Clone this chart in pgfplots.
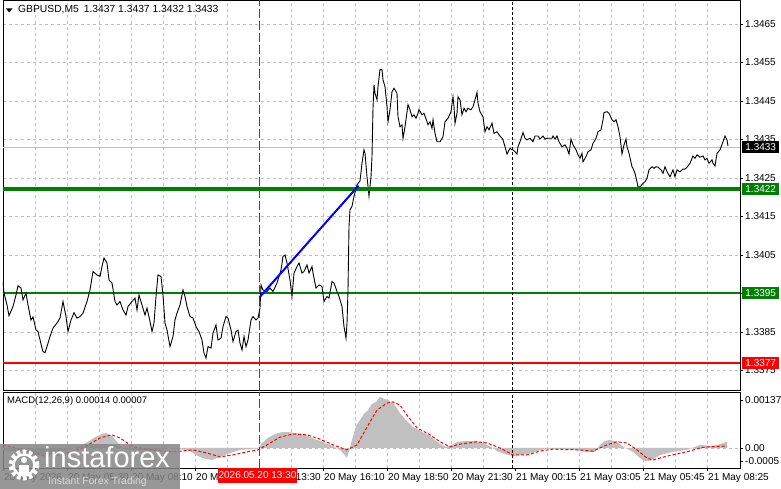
\documentclass[border=0pt]{standalone}
\usepackage{pgfplots}
\pgfplotsset{compat=1.18}
\usepackage{fontspec}
\setmainfont{Liberation Sans}
\definecolor{mtgreen}{RGB}{0,128,0}
\definecolor{mtred}{RGB}{255,0,0}
\definecolor{mtgrid}{RGB}{192,192,192}
\definecolor{mtsilver}{RGB}{192,192,192}
\newcommand{\tf}{\fontsize{10}{12}\selectfont}
\begin{document}
\begin{tikzpicture}[x=1pt,y=1pt]
\useasboundingbox (0,0) rectangle (781,489);
% ---------------- main price panel ----------------
\begin{axis}[
  at={(3pt,99pt)}, anchor=south west, scale only axis,
  width=737pt, height=390pt,
  xmin=3, xmax=740, ymin=1.336992, ymax=1.347122,
  axis line style={black, line width=0.8pt},
  clip=true,
  xtick={35.5,67.5,99.5,131.5,163.5,195.5,227.5,291.5,323.5,355.5,387.5,419.5,451.5,483.5,547.5,579.5,611.5,643.5,675.5,707.5},
  xticklabels={},
  x tick style={draw=none},
  ytick={1.3375,1.3385,1.3395,1.3405,1.3415,1.3425,1.3435,1.3445,1.3455,1.3465},
  yticklabels={1.3375,1.3385,1.3395,1.3405,1.3415,1.3425,1.3435,1.3445,1.3455,1.3465},
  ytick pos=right, tick align=outside, major tick length=3pt,
  y tick style={black, line width=0.8pt},
  yticklabel style={font=\tf, anchor=west, inner sep=0pt, xshift=2pt},
  scaled y ticks=false,
  xmajorgrids, ymajorgrids,
  grid style={mtgrid, line width=0.8pt, dash pattern=on 3pt off 3pt},
]
% horizontal level lines
\addplot[mtgrid, line width=1pt] coordinates {(3,1.3433) (740,1.3433)};
\addplot[mtred, line width=2pt] coordinates {(3,1.3377) (740,1.3377)};
\addplot[mtgreen, line width=2pt] coordinates {(3,1.3395) (740,1.3395)};
% vertical markers
\addplot[mtred, line width=1.2pt, dash pattern=on 9pt off 3pt] coordinates {(259.5,1.336992) (259.5,1.347122)};
\addplot[black, line width=1pt, dash pattern=on 3pt off 2pt] coordinates {(512,1.336992) (512,1.347122)};
% price line
\addplot[black, line width=0.9pt] table {
x y
3 1.33981
4 1.33951
7 1.33920
9 1.33892
13 1.33916
16 1.33946
18 1.33970
21 1.33964
23 1.33933
26 1.33951
28 1.33920
31 1.33881
33 1.33889
36 1.33855
38 1.33851
42 1.33808
43 1.33799
45 1.33796
47 1.33812
50 1.33838
53 1.33860
57 1.33873
60 1.33886
63 1.33929
66 1.33890
68 1.33851
71 1.33881
74 1.33900
77 1.33886
80 1.33890
83 1.33899
87 1.33929
90 1.33959
93 1.34007
97 1.33998
100 1.33994
102 1.34020
104 1.34042
107 1.34029
109 1.33985
112 1.33977
115 1.33929
117 1.33920
120 1.33929
123 1.33907
126 1.33894
128 1.33916
132 1.33929
135 1.33938
137 1.33907
139 1.33946
142 1.33920
145 1.33894
147 1.33912
150 1.33877
152 1.33851
154 1.33873
156 1.33942
158 1.33998
161 1.33994
163 1.33946
165 1.33873
167 1.33855
170 1.33812
173 1.33838
175 1.33881
177 1.33899
180 1.33920
183 1.33959
185 1.33942
187 1.33916
190 1.33890
193 1.33886
196 1.33864
199 1.33851
202 1.33829
204 1.33795
206 1.33782
208 1.33812
211 1.33808
213 1.33847
216 1.33868
218 1.33829
221 1.33834
223 1.33864
226 1.33890
228 1.33886
231 1.33855
233 1.33825
236 1.33851
238 1.33855
240 1.33821
242 1.33803
244 1.33838
246 1.33812
248 1.33829
251 1.33881
253 1.33890
256 1.33881
258 1.33886
260 1.33912
261 1.33972
263 1.33959
267 1.33955
270 1.33964
273 1.33955
277 1.33977
281 1.34011
283 1.34046
285 1.34050
287 1.34029
290 1.33985
292 1.33942
294 1.34003
297 1.34020
299 1.34029
302 1.34003
304 1.34007
307 1.34024
309 1.34003
312 1.34020
313 1.34003
316 1.33964
319 1.33972
322 1.33968
324 1.33929
327 1.33942
329 1.33938
332 1.33981
334 1.33977
337 1.33955
339 1.33942
342 1.33916
344 1.33864
346 1.33834
347 1.33873
348 1.33959
349 1.34124
350 1.34167
352 1.34176
354 1.34202
357 1.34232
360 1.34242
362 1.34288
364 1.34323
365 1.34314
367 1.34253
369 1.34203
371 1.34253
372 1.34305
373 1.34432
374 1.34492
375 1.34470
377 1.34453
378 1.34487
380 1.34532
382 1.34531
383 1.34505
385 1.34487
387 1.34435
388 1.34396
390 1.34427
392 1.34474
394 1.34483
397 1.34470
398 1.34409
400 1.34383
402 1.34388
403 1.34353
405 1.34383
408 1.34440
410 1.34427
412 1.34409
414 1.34414
416 1.34405
418 1.34418
419 1.34428
422 1.34414
424 1.34418
427 1.34396
428 1.34388
430 1.34396
432 1.34379
433 1.34401
435 1.34366
437 1.34344
440 1.34344
443 1.34357
445 1.34396
448 1.34405
451 1.34422
453 1.34461
454 1.34435
455 1.34392
457 1.34418
458 1.34461
460 1.34453
462 1.34414
464 1.34431
466 1.34422
468 1.34431
471 1.34427
473 1.34435
475 1.34453
477 1.34472
478 1.34444
480 1.34422
483 1.34409
485 1.34370
487 1.34383
489 1.34375
492 1.34392
494 1.34366
497 1.34370
499 1.34362
502 1.34353
503 1.34349
505 1.34331
507 1.34312
510 1.34327
512 1.34323
513 1.34323
515 1.34318
517 1.34312
518 1.34331
520 1.34344
523 1.34368
525 1.34353
527 1.34349
530 1.34353
533 1.34344
535 1.34359
538 1.34359
540 1.34351
543 1.34359
545 1.34351
548 1.34353
552 1.34353
553 1.34359
555 1.34351
557 1.34359
559 1.34344
562 1.34331
565 1.34336
567 1.34327
569 1.34312
571 1.34351
573 1.34336
576 1.34323
578 1.34310
580 1.34301
582 1.34314
583 1.34292
586 1.34305
588 1.34318
591 1.34323
593 1.34340
596 1.34353
598 1.34370
601 1.34375
603 1.34401
604 1.34420
607 1.34422
609 1.34418
612 1.34401
614 1.34396
616 1.34401
618 1.34383
620 1.34357
622 1.34312
624 1.34336
626 1.34351
627 1.34331
629 1.34314
632 1.34279
633 1.34275
635 1.34262
637 1.34240
638 1.34226
640 1.34227
643 1.34236
645 1.34240
647 1.34249
649 1.34271
652 1.34279
654 1.34275
656 1.34279
658 1.34278
661 1.34271
663 1.34262
665 1.34279
667 1.34266
670 1.34253
673 1.34271
675 1.34253
677 1.34271
680 1.34266
683 1.34273
685 1.34273
687 1.34278
690 1.34288
693 1.34307
695 1.34301
697 1.34310
700 1.34304
703 1.34307
705 1.34297
707 1.34301
709 1.34288
712 1.34297
713 1.34288
715 1.34281
717 1.34314
720 1.34323
723 1.34344
725 1.34359
727 1.34349
728 1.34333
};
% thick support line
\addplot[mtgreen, line width=4pt] coordinates {(3,1.3422) (740,1.3422)};
% blue trend segment
\addplot[blue, line width=2pt] coordinates {(259.5,1.33940) (358.5,1.34230)};
\coordinate (b1433) at (axis cs:740,1.3433);
\coordinate (b1422) at (axis cs:740,1.3422);
\coordinate (b1395) at (axis cs:740,1.3395);
\coordinate (b1377) at (axis cs:740,1.3377);
\end{axis}
% price boxes on the right scale
\tikzset{pbox/.style={anchor=west, inner sep=0pt, minimum width=37pt, minimum height=12pt, xshift=2pt, text=white, font=\tf}}
\node[pbox, fill=black] at (b1433) {1.3433};
\node[pbox, fill=mtgreen] at (b1422) {1.3422};
\node[pbox, fill=mtgreen] at (b1395) {1.3395};
\node[pbox, fill=mtred] at (b1377) {1.3377};
% title
\fill (6,480.5) -- (12.5,480.5) -- (9.25,476.5) -- cycle;
\node[anchor=west, inner sep=0pt, font=\fontsize{10.3}{12}\selectfont] at (18,479) {GBPUSD,M5\hspace{5pt}1.3437 1.3437 1.3432 1.3433};
% ---------------- MACD panel ----------------
\begin{axis}[
  at={(3pt,21pt)}, anchor=south west, scale only axis,
  width=737pt, height=76pt,
  xmin=3, xmax=740, ymin=-0.000517, ymax=0.001447,
  axis line style={black, line width=0.8pt},
  xtick={3.5,67.5,131.5,195.5,259.5,323.5,387.5,451.5,515.5,579.5,643.5,707.5},
  xticklabels={20 May 2026,20 May 05:30,20 May 08:10,20 May 10:50,20 May 13:30,20 May 16:10,20 May 18:50,20 May 21:30,21 May 00:15,21 May 03:05,21 May 05:45,21 May 08:25},
  minor xtick={35.5,67.5,99.5,131.5,163.5,195.5,227.5,291.5,323.5,355.5,387.5,419.5,451.5,483.5,547.5,579.5,611.5,643.5,675.5,707.5},
  xminorgrids,
  minor grid style={mtgrid, line width=0.8pt, dash pattern=on 3pt off 3pt},
  minor tick length=0pt,
  xtick pos=bottom, ytick pos=right, tick align=outside, major tick length=3pt,
  tick style={black, line width=0.8pt},
  ytick={-0.000336,0,0.00124},
  yticklabels={-0.0005,0.00,0.00137},
  scaled y ticks=false,
  yticklabel style={font=\tf, anchor=west, inner sep=0pt, xshift=2pt},
  xticklabel style={font=\tf, anchor=north west, inner sep=0pt, xshift=0.5pt, yshift=-2pt},
]
\addplot[mtgrid, line width=0.8pt, dash pattern=on 3pt off 3pt] coordinates {(3,0) (740,0)};
% MACD histogram
\addplot[draw=none, fill=mtsilver] coordinates {
(3,0) (3,-0.00005) (10,-0.00008) (20,-0.00010) (30,-0.00013) (40,-0.00018) (50,-0.00018)
(60,-0.00010) (70,-0.00003) (80,0.00005) (88,0.00016) (95,0.00028) (100,0.00034)
(106,0.00039) (112,0.00031) (118,0.00013) (122,0) (130,-0.00005) (140,-0.00005)
(150,-0.00008) (160,-0.00003) (170,0) (180,-0.00003) (190,-0.00008) (198,-0.00021)
(205,-0.00028) (212,-0.00031) (220,-0.00023) (230,-0.00013) (240,-0.00005) (250,-0.00003)
(258,0) (262,0.00013) (268,0.00026) (275,0.00036) (282,0.00041) (288,0.00041)
(295,0.00039) (305,0.00034) (315,0.00023) (325,0.00013) (333,0.00005) (340,-0.00005)
(344,-0.00016) (347,-0.00026) (350,0) (352,0.00021) (356,0.00057) (360,0.00072)
(364,0.00088) (368,0.00098) (372,0.00114) (376,0.00119) (380,0.00132) (384,0.00127)
(388,0.00124) (394,0.00114) (400,0.00090) (406,0.00072) (413,0.00054) (420,0.00044)
(430,0.00031) (440,0.00010) (446,0.00003) (452,0.00008) (457,0.00016) (466,0.00018)
(477,0.00018) (487,0.00008) (493,0) (497,-0.00008) (505,-0.00016) (513,-0.00021)
(520,-0.00018) (527,-0.00016) (537,-0.00008) (545,-0.00003) (560,-0.00003) (575,-0.00005)
(585,-0.00010) (595,-0.00010) (600,0.00008) (605,0.00018) (610,0.00021) (617,0.00016)
(623,0.00003) (633,-0.00010) (640,-0.00026) (645,-0.00034) (650,-0.00034) (655,-0.00026)
(660,-0.00018) (673,-0.00010) (687,-0.00005) (695,0.00003) (700,0.00008) (710,0.00005)
(718,0.00008) (723,0.00013) (727,0.00016) (727,0)
};
% signal line
\addplot[mtred, line width=1pt, dash pattern=on 3pt off 2pt] coordinates {
(3,0.00008) (15,0) (30,-0.00010) (45,-0.00021) (60,-0.00018) (83,0) (100,0.00026)
(112,0.00034) (120,0.00026) (133,0.00003) (150,-0.00005) (173,-0.00010) (193,-0.00005)
(207,-0.00013) (220,-0.00023) (233,-0.00018) (247,-0.00010) (258,-0.00005) (267,0.00008)
(280,0.00028) (293,0.00036) (307,0.00034) (320,0.00023) (333,0.00008) (347,-0.00005)
(357,0.00008) (367,0.00054) (377,0.00098) (387,0.00116) (393,0.00119) (400,0.00111)
(407,0.00085) (417,0.00052) (430,0.00034) (440,0.00016) (450,0.00003) (460,0.00010)
(477,0.00016) (487,0.00013) (500,0) (513,-0.00018) (527,-0.00018) (540,-0.00008)
(553,-0.00003) (580,-0.00005) (593,-0.00008) (607,0.00008) (617,0.00016) (627,0.00013)
(637,-0.00005) (647,-0.00026) (653,-0.00031) (667,-0.00021) (687,-0.00010) (700,0)
(707,0.00003) (727,0.00005)
};
\addplot[mtred, line width=1.2pt, dash pattern=on 9pt off 3pt] coordinates {(259.5,-0.000517) (259.5,0.001447)};
\addplot[black, line width=1pt, dash pattern=on 3pt off 2pt] coordinates {(512,-0.000517) (512,0.001447)};
\end{axis}
\node[anchor=west, inner sep=0pt, font=\fontsize{9.5}{11}\selectfont] at (7,88) {MACD(12,26,9) 0.00014 0.00007};
% red time label
\node[fill=mtred, text=white, inner sep=0pt, minimum width=79pt, minimum height=15pt, font=\tf] at (257.5,13.5) {2026.05.20 13:30};
% watermark
\fill[black!48, fill opacity=0.85] (0,0) rectangle (180,45);
\draw[white, line width=5pt, dash pattern=on 3.5pt off 2.5pt] (24,24) circle (13pt);
\draw[white, line width=2.5pt] (24,24) circle (10.5pt);
\fill[white] (24,29) circle (3pt);
\fill[white] (19,14) rectangle (29,24);
\node[anchor=base west, inner sep=0pt, text=white, font=\fontsize{29}{30}\selectfont] at (44,21) {instaforex};
\node[anchor=base west, inner sep=0pt, text=white!85!black, font=\fontsize{10.4}{12}\selectfont] at (48,4) {Instant Forex Trading};
\end{tikzpicture}
\end{document}
